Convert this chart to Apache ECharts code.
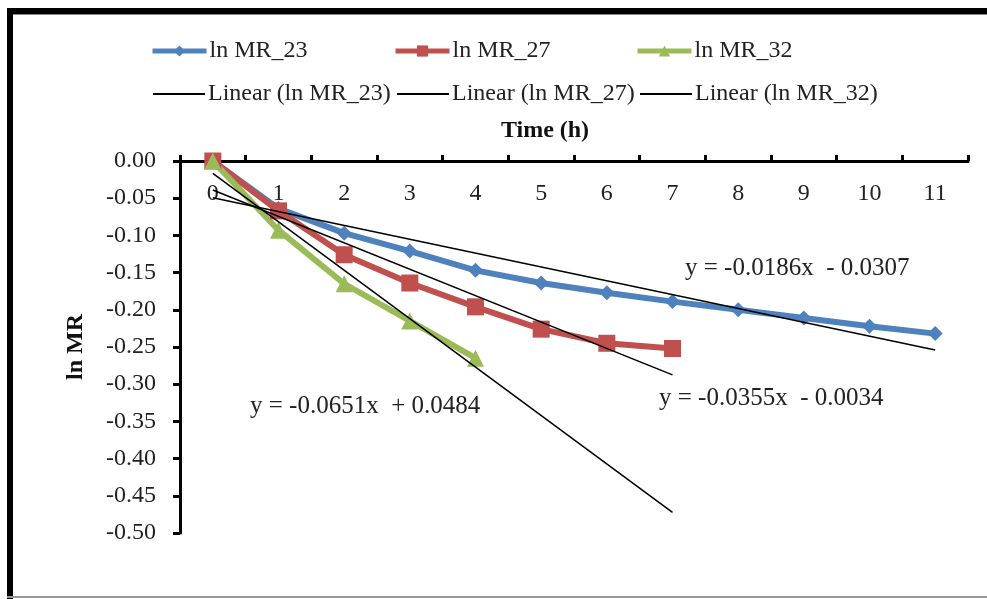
<!DOCTYPE html>
<html>
<head>
<meta charset="utf-8">
<script src="https://cdn.jsdelivr.net/npm/echarts@6/dist/echarts.min.js"></script>
<style>
html,body{margin:0;padding:0;background:#fff;}
#chart{width:987px;height:599px;}
</style>
</head>
<body>
<div id="chart"></div>
<script>
// ---- data ----
const categories = ['0','1','2','3','4','5','6','7','8','9','10','11'];
const lnMR23 = [0, -0.064, -0.097, -0.121, -0.147, -0.164, -0.177, -0.189, -0.200, -0.211, -0.222, -0.232];
const lnMR27 = [0, -0.067, -0.126, -0.164, -0.196, -0.226, -0.245, -0.252];
const lnMR32 = [0, -0.093, -0.165, -0.215, -0.265];
// linear trend equations (slope, intercept) as displayed; Excel x = category index + 1
const trend23 = { slope: -0.0186, intercept: -0.0307, lastIndex: 11, label: 'y = -0.0186x  - 0.0307' };
const trend27 = { slope: -0.0355, intercept: -0.0034, lastIndex: 7, label: 'y = -0.0355x  - 0.0034' };
const trend32 = { slope: -0.0651, intercept: 0.0484, lastIndex: 7, label: 'y = -0.0651x  + 0.0484' };
const yTicks = { min: -0.5, max: 0, interval: 0.05 };

const FONT = "'Liberation Serif', 'Times New Roman', serif";
function trendLine(t) {
  return [0, t.lastIndex].map(i => [i, +(t.slope * (i + 1) + t.intercept).toFixed(5)]);
}

const chart = echarts.init(document.getElementById('chart'));
const legendText = { fontFamily: FONT, fontSize: 24, color: '#222', padding: [0,0,0,-2] };
function legSeries(name, left) {
  return { data: [name], left: left, top: 34, itemWidth: 54, itemHeight: 14, selectedMode: false,
    textStyle: legendText, lineStyle: { width: 5 } };
}
function legTrend(name, left) {
  return { data: [{ name: name, icon: 'rect' }], left: left, top: 77, itemWidth: 52, itemHeight: 2, selectedMode: false,
    textStyle: legendText };
}

chart.setOption({
  backgroundColor: '#fff',
  animation: false,
  textStyle: { fontFamily: FONT },
  legend: [
    legSeries('ln MR_23', 145), legSeries('ln MR_27', 388), legSeries('ln MR_32', 630),
    legTrend('Linear (ln MR_23)', 148), legTrend('Linear (ln MR_27)', 392), legTrend('Linear (ln MR_32)', 635)
  ],
  grid: { left: 180, top: 161, right: 19, bottom: 66, containLabel: false },
  xAxis: {
    type: 'category', data: categories, position: 'top', boundaryGap: true,
    name: 'Time (h)', nameLocation: 'middle', nameGap: 18,
    nameTextStyle: { fontFamily: FONT, fontSize: 24, fontWeight: 'bold', color: '#111', padding: [0, 58, 0, 0] },
    axisLine: { lineStyle: { color: '#000', width: 3 } },
    axisTick: { show: true, inside: false, length: 6, lineStyle: { color: '#000', width: 3 } },
    axisLabel: { inside: true, margin: 21, fontFamily: FONT, fontSize: 24, color: '#222' },
    splitLine: { show: false }
  },
  yAxis: {
    type: 'value', min: yTicks.min, max: yTicks.max, interval: yTicks.interval,
    name: 'ln MR', nameLocation: 'middle', nameGap: 92, nameRotate: 90,
    nameTextStyle: { fontFamily: FONT, fontSize: 24, fontWeight: 'bold', color: '#111' },
    axisLine: { show: true, lineStyle: { color: '#000', width: 3 } },
    axisTick: { show: true, length: 7, lineStyle: { color: '#000', width: 3 } },
    axisLabel: { margin: 24, fontFamily: FONT, fontSize: 24, color: '#222', formatter: v => (Math.abs(v) < 1e-9 ? 0 : v).toFixed(2) },
    splitLine: { show: false }
  },
  series: [
    { name: 'ln MR_23', type: 'line', data: lnMR23, color: '#4F81BD', symbol: 'diamond', symbolSize: 15,
      lineStyle: { width: 6, color: '#4F81BD' }, itemStyle: { color: '#4F81BD' }, z: 2 },
    { name: 'ln MR_27', type: 'line', data: lnMR27, color: '#C0504D', symbol: 'rect', symbolSize: 17,
      lineStyle: { width: 6, color: '#C0504D' }, itemStyle: { color: '#C0504D' }, z: 2 },
    { name: 'ln MR_32', type: 'line', data: lnMR32, color: '#9BBB59', symbol: 'triangle', symbolSize: 17,
      lineStyle: { width: 6, color: '#9BBB59' }, itemStyle: { color: '#9BBB59' }, z: 2 },
    { name: 'Linear (ln MR_23)', type: 'line', data: trendLine(trend23), symbol: 'none', color: '#000',
      lineStyle: { width: 1.5, color: '#000' }, z: 5 },
    { name: 'Linear (ln MR_27)', type: 'line', data: trendLine(trend27), symbol: 'none', color: '#000',
      lineStyle: { width: 1.5, color: '#000' }, z: 5 },
    { name: 'Linear (ln MR_32)', type: 'line', data: trendLine(trend32), symbol: 'none', color: '#000',
      lineStyle: { width: 1.5, color: '#000' }, z: 5 }
  ],
  graphic: [
    { type: 'rect', shape: { x: 7, y: 8, width: 980, height: 6 }, style: { fill: '#000' } },
    { type: 'rect', shape: { x: 7, y: 14, width: 980, height: 1 }, style: { fill: '#888' } },
    { type: 'rect', shape: { x: 7, y: 8, width: 6, height: 591 }, style: { fill: '#000' } },
    { type: 'rect', shape: { x: 7, y: 596, width: 980, height: 2 }, style: { fill: '#999' } },
    { type: 'text', left: 685, top: 256, style: { text: trend23.label, font: '25px ' + FONT, fill: '#222' } },
    { type: 'text', left: 659, top: 386, style: { text: trend27.label, font: '25px ' + FONT, fill: '#222' } },
    { type: 'text', left: 250, top: 394, style: { text: trend32.label, font: '25px ' + FONT, fill: '#222' } }
  ]
});
</script>
</body>
</html>
